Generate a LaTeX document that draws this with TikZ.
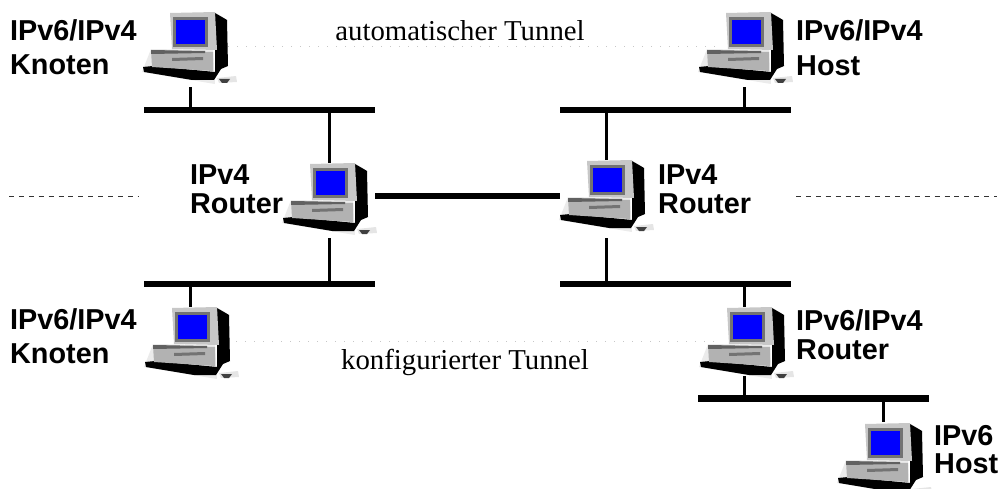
\documentclass[tikz,border=0pt]{standalone}
\usepackage{fontspec}
\setmainfont{Liberation Serif}
\newfontfamily\lblfont{Liberation Sans}[BoldFont={Liberation Sans Bold}]
\begin{document}
\begin{tikzpicture}[x=1pt,y=-1pt,
 busline/.style={fill=black,draw=none,inner sep=0pt,minimum height=6.5pt,minimum width=231pt,rectangle},
 trunk/.style={line width=6pt,draw=black},
 stub/.style={line width=3pt,draw=black},
 lbl/.style={font=\lblfont\bfseries\fontsize{28.8}{#1}\selectfont,align=left,anchor=base west,inner sep=0pt},
 tunnelcap/.style={font=\fontsize{28.8}{33}\selectfont,inner sep=0pt,anchor=base},
 hole/.style={inner sep=0pt,minimum width=46pt,rectangle},
 dashline/.style={draw=black!80,line width=0.9pt,dash pattern=on 5pt off 4.9pt},
 dotline/.style={draw=black!22,line width=0.8pt,dash pattern=on 1pt off 8pt},
 pics/pc/.style={code={
  \fill[black!8] (-25,60) -- (-16,37) -- (46,38) -- (48,72) -- cycle;
  \fill[black] (48,1) -- (55,5) -- (60,8) -- (61,54) -- (54,57) -- (47,68) -- (25,68) -- (-23,60) -- (-24,55) -- (-14,54) -- (48,60) -- cycle;
  \fill[black!22] (3,1) -- (48,0) -- (50,38) -- (5,37) -- cycle;
  \fill[black!55] (6,5) -- (41,5) -- (41,35) -- (6,35) -- cycle;
  \fill[blue] (9,8) -- (38,8) -- (38,32) -- (9,32) -- cycle;
  \fill[black!30] (-16,38) -- (46,40) -- (46,59) -- (-15,55) -- cycle;
  \fill[black!62] (-16,38) -- (38,39) -- (38,41) -- (-16,42) -- cycle;
  \fill[black!55] (5,46) -- (36,45) -- (36,48) -- (5,49) -- cycle;
  \fill[black!10] (50,66) -- (69,64) -- (70,70) -- (52,71) -- cycle;
  \fill[black!75] (52,67) -- (63,67) -- (60,71) -- (55,71) -- cycle;
 }}]
\useasboundingbox (0,0) rectangle (1003,489);

% dashed and dotted guide lines
\coordinate (dl1) at (9,196); \coordinate (dl2) at (139,196);
\coordinate (dr1) at (796,196); \coordinate (dr2) at (997,196);
\coordinate (ta) at (228,46); \coordinate (tb) at (720,46);
\coordinate (ka) at (236,341); \coordinate (kb) at (720,341);
\draw[dashline] (dl1) -- (dl2);
\draw[dashline] (dr1) -- (dr2);
\draw[dotline] (ta) -- (tb);
\draw[dotline] (ka) -- (kb);

% buses
\node[busline] (bTL) at (259.5,110) {};
\node[busline] (bTR) at (675.5,110) {};
\node[busline] (bBL) at (259.5,284) {};
\node[busline] (bBR) at (675.5,284) {};
\node[busline] (bS)  at (813.5,398.5) {};

% computers (connection boxes: stub ends)
\node[hole,minimum height=75pt] (cA) at (190,49.5) {};
\node[hole,minimum height=75pt] (cB) at (744,49.5) {};
\node[hole,minimum height=75pt] (cR1) at (329,200.5) {};
\node[hole,minimum height=78pt] (cR2) at (606,199) {};
\node[hole,minimum height=75pt] (cC) at (190,344.5) {};
\node[hole,minimum height=69pt] (cD) at (744,341.5) {};
\node[hole,minimum height=75pt] (cE) at (883,459.5) {};
\pic at (167,12) {pc};
\pic at (723,12) {pc};
\pic at (307,163) {pc};
\pic at (584,160) {pc};
\pic at (169,307) {pc};
\pic at (724,307) {pc};
\pic at (862,423) {pc};

% connectors
\draw[stub] (cA.south) -- (cA.south |- bTL.north);
\draw[stub] (cB.south) -- (cB.south |- bTR.north);
\draw[stub] (cR1.north) -- (cR1.north |- bTL.south);
\draw[stub] (cR1.south) -- (cR1.south |- bBL.north);
\draw[stub] (cR2.north) -- (cR2.north |- bTR.south);
\draw[stub] (cR2.south) -- (cR2.south |- bBR.north);
\draw[stub] (cC.north) -- (cC.north |- bBL.south);
\draw[stub] (cD.north) -- (cD.north |- bBR.south);
\draw[stub] (cD.south) -- (cD.south |- bS.north);
\draw[stub] (cE.north) -- (cE.north |- bS.south);
\coordinate (trA) at (375,196); \coordinate (trB) at (560,196);
\draw[trunk] (trA) -- (trB);

% labels
\node[lbl=34] (l1) at (10,75) {IPv6/IPv4\\Knoten};
\node[lbl=35] (l2) at (796,76) {IPv6/IPv4\\Host};
\node[lbl=28.5] (l3) at (190,213) {IPv4\\Router};
\node[lbl=28.5] (l4) at (658,213) {IPv4\\Router};
\node[lbl=34] (l5) at (10,363) {IPv6/IPv4\\Knoten};
\node[lbl=29] (l6) at (796,359) {IPv6/IPv4\\Router};
\node[lbl=28] (l7) at (934,473) {IPv6\\Host};
\node[tunnelcap] (t1) at (460,41) {automatischer Tunnel};
\node[tunnelcap] (t2) at (465,369) {konfigurierter Tunnel};
\end{tikzpicture}
\end{document}
